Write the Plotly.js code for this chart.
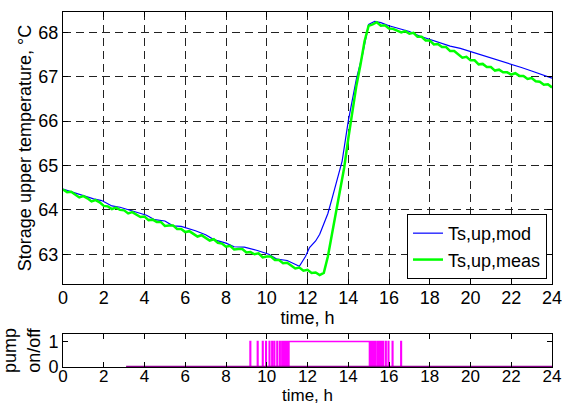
<!DOCTYPE html>
<html>
<head>
<meta charset="utf-8">
<script src="https://cdn.plot.ly/plotly-3.0.1.min.js"></script>
<style>
html,body{margin:0;padding:0;background:#fff;}
#chart{width:562px;height:406px;}
</style>
</head>
<body>
<div id="chart"></div>
<script>
// Measured storage upper temperature (every 0.2 h)
var measT = [];
for (var i = 0; i <= 120; i++) { measT.push(+(i * 0.2).toFixed(1)); }
var measTemp = [
64.46,64.40,64.41,64.34,64.28,64.31,64.26,64.19,64.22,64.17,
64.09,64.08,64.02,64.05,64.00,63.99,63.92,63.95,63.89,63.84,
63.85,63.77,63.78,63.73,63.73,63.64,63.65,63.65,63.57,63.57,
63.50,63.52,63.46,63.40,63.43,63.37,63.31,63.34,63.26,63.24,
63.17,63.19,63.11,63.12,63.12,63.04,63.05,63.00,63.02,62.93,
62.95,62.95,62.87,62.87,62.80,62.81,62.74,62.68,62.70,62.63,
62.65,62.58,62.59,62.53,62.58,62.95,63.45,63.95,64.42,64.95,
65.60,66.25,66.80,67.27,67.80,68.15,68.18,68.23,68.15,68.16,
68.09,68.08,68.04,68.00,68.03,67.97,67.99,67.90,67.90,67.82,
67.82,67.73,67.74,67.67,67.67,67.58,67.58,67.50,67.43,67.45,
67.37,67.37,67.28,67.29,67.22,67.22,67.14,67.16,67.10,67.10,
67.05,67.08,67.02,67.02,66.95,66.97,66.90,66.89,66.82,66.83,
66.76
];

// Model storage upper temperature
var modT = [0,1.0,1.5,1.9,2.4,2.8,3.5,4.1,4.5,5.0,5.4,5.8,6.5,7.0,7.4,8.0,8.4,8.9,9.5,10.1,10.5,11.0,11.6,11.9,12.1,12.4,12.6,12.8,13.0,13.2,13.4,13.7,14.0,14.2,14.4,14.7,15.0,15.3,15.6,16.0,16.5,17.0,17.5,18.0,18.5,19.0,19.5,20.0,20.5,21.0,21.5,22.0,22.5,23.0,23.5,24.0];
var modTemp = [64.47,64.32,64.25,64.21,64.09,64.06,63.97,63.88,63.78,63.75,63.64,63.63,63.53,63.44,63.33,63.25,63.17,63.16,63.09,63.00,62.89,62.86,62.73,62.95,63.15,63.30,63.45,63.70,63.92,64.25,64.60,65.10,66.00,66.50,66.95,67.50,68.18,68.25,68.22,68.15,68.08,68.02,67.92,67.84,67.76,67.69,67.64,67.57,67.50,67.43,67.35,67.28,67.21,67.13,67.05,66.97];

// Pump on intervals [start, end] in hours
var pumpOnStart = [9.18,9.54,9.79,9.95,10.12,10.25,10.36,10.50,10.63,10.74,10.84,10.94,11.02,11.09,15.10,15.15,15.22,15.31,15.41,15.47,15.57,15.63,15.70,15.83,15.96,16.16,16.58];
var pumpOnEnd   = [9.21,9.57,9.82,9.98,10.15,10.28,10.39,10.53,10.66,10.77,10.87,10.97,11.05,15.04,15.12,15.18,15.24,15.33,15.44,15.51,15.60,15.66,15.73,15.86,15.99,16.19,16.61];
var pumpFirst = 3.1, pumpLast = 24;

var xTicks = [0,2,4,6,8,10,12,14,16,18,20,22,24];
var yTicks = [63,64,65,66,67,68];
var pumpTicks = [0,1];

var px = [pumpFirst], py = [0];
for (var k = 0; k < pumpOnStart.length; k++) {
  px.push(pumpOnStart[k], pumpOnStart[k], pumpOnEnd[k], pumpOnEnd[k]);
  py.push(0, 1, 1, 0);
}
px.push(pumpLast); py.push(0);

var FONT = 'Liberation Sans, Arial, Helvetica, sans-serif';
var FS = 18;

var traces = [
  {x: modT, y: modTemp, type: 'scatter', mode: 'lines', name: 'Ts,up,mod',
   line: {color: '#0000ff', width: 1.2}, xaxis: 'x', yaxis: 'y'},
  {x: measT, y: measTemp, type: 'scatter', mode: 'lines', name: 'Ts,up,meas',
   line: {color: '#00ff00', width: 2.5}, xaxis: 'x', yaxis: 'y'},
  {x: px, y: py, type: 'scatter', mode: 'lines', name: 'pump', showlegend: false,
   line: {color: '#ff00ff', width: 1.5}, xaxis: 'x2', yaxis: 'y2', cliponaxis: false},
  {x: [pumpFirst, pumpLast], y: [0, 0], type: 'scatter', mode: 'lines', name: 'pump off', showlegend: false,
   line: {color: '#8a008a', width: 2.5}, xaxis: 'x2', yaxis: 'y2', cliponaxis: false}
];

var axBase = {
  showline: true, linecolor: '#000', linewidth: 1, mirror: 'allticks',
  ticks: 'inside', ticklen: 5, tickcolor: '#000', tickwidth: 1,
  zeroline: false, ticklabeloverflow: 'allow',
  tickfont: {family: FONT, size: FS, color: '#000'}
};
function ax(o) { var r = {}; for (var k in axBase) r[k] = axBase[k]; for (var k in o) r[k] = o[k]; return r; }

var layout = {
  width: 562, height: 406,
  margin: {l: 63, r: 10, t: 12, b: 39},
  paper_bgcolor: '#fff', plot_bgcolor: '#fff',
  font: {family: FONT, size: FS, color: '#000'},
  showlegend: true,
  legend: {x: 0.9898, xanchor: 'right', y: 0.248, yanchor: 'bottom',
    bgcolor: '#fff', bordercolor: '#000', borderwidth: 1, itemwidth: 30,
    font: {family: FONT, size: FS, color: '#000'}, tracegroupgap: 0},
  xaxis: ax({domain: [0, 1], anchor: 'y', range: [0, 24], tickvals: xTicks,
    showgrid: true, gridcolor: '#222', gridwidth: 1, griddash: '8px,5px', ticklabelstandoff: -3,
    title: {text: 'time, h', font: {family: FONT, size: FS}, standoff: 0}}),
  yaxis: ax({domain: [0.2338, 1], anchor: 'x', range: [62.33, 68.46], tickvals: yTicks,
    showgrid: true, gridcolor: '#222', gridwidth: 1, griddash: '8px,5px',
    title: {text: 'Storage upper temperature, °C', font: {family: FONT, size: FS}, standoff: 2}}),
  xaxis2: ax({domain: [0, 1], anchor: 'y2', range: [0, 24], tickvals: xTicks, showgrid: false,
    ticklabelstandoff: -6, tickfont: {family: FONT, size: 17, color: '#000'},
    title: {text: 'time, h', font: {family: FONT, size: 17}, standoff: 0}}),
  yaxis2: ax({domain: [0, 0.093], anchor: 'x2', range: [0, 1.3], tickvals: pumpTicks, showgrid: false,
    title: {text: 'pump<br>on/off', font: {family: FONT, size: FS}, standoff: 3}})
};

Plotly.newPlot('chart', traces, layout, {displayModeBar: false, staticPlot: true});
</script>
</body>
</html>
